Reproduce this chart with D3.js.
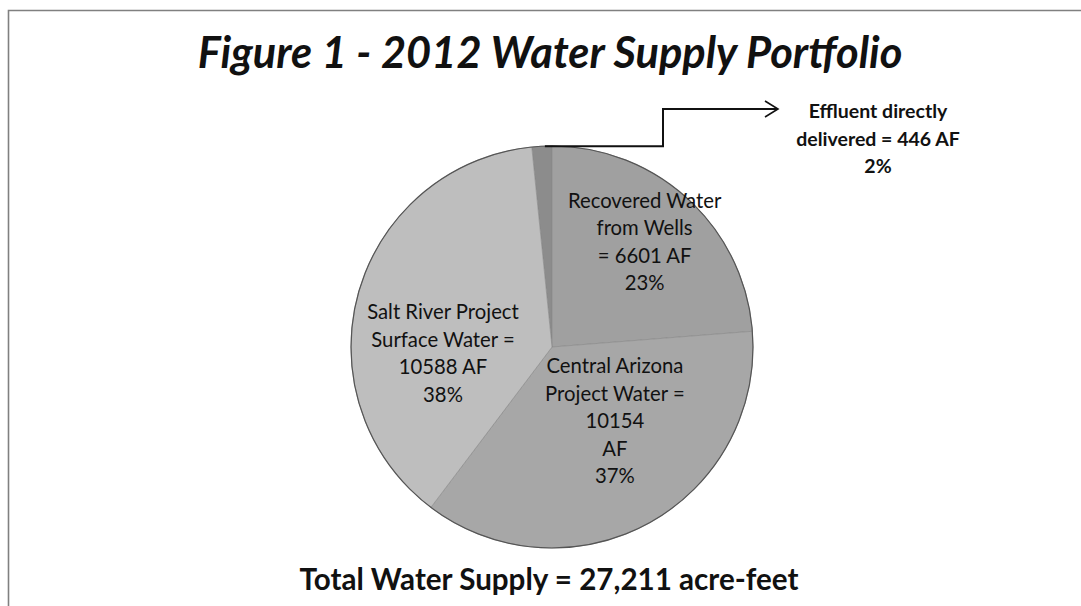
<!DOCTYPE html>
<html>
<head>
<meta charset="utf-8">
<script src="https://cdn.jsdelivr.net/npm/d3@7"></script>
<style>
  html, body { margin: 0; padding: 0; background: #fff; }
  svg { display: block; }
  text { font-family: Lato, "Open Sans", sans-serif; fill: #111; }
</style>
</head>
<body>
<div id="chart"></div>
<script>
// Valori (acre-feet), ordine in senso orario
const categories = ["Effluent", "Recovered", "CAP", "SRP"];
const acreFeet = [446, 6601, 10154, 10588];
const percentLabels = ["2%", "23%", "37%", "38%"];
const labelLines = [
    ["Effluent directly", "delivered = 446 AF"],
    ["Recovered Water", "from Wells", "= 6601 AF"],
    ["Central Arizona", "Project Water =", "10154", "AF"],
    ["Salt River Project", "Surface Water =", "10588 AF"]
];
const sliceColors = ["#8c8c8c", "#a0a0a0", "#a7a7a7", "#bebebe"];
const titleText = "Figure 1 - 2012 Water Supply Portfolio";
const totalText = "Total Water Supply = 27,211 acre-feet";

const width = 1081, height = 606;
const cx = 552, cy = 347, radius = 201;

const svg = d3.select("#chart").append("svg")
    .attr("width", width)
    .attr("height", height);

// bordo della scansione (solo sopra e a sinistra)
svg.append("path")
    .attr("d", `M8.5,${height} V10.5 H${width}`)
    .attr("fill", "none")
    .attr("stroke", "#808080")
    .attr("stroke-width", 1.6);

// adatta la dimensione del font alla larghezza voluta
function fitText(sel, targetWidth, startSize) {
    sel.style("font-size", startSize + "px");
    const w = sel.node().getComputedTextLength();
    sel.style("font-size", (startSize * targetWidth / w).toFixed(2) + "px");
}

const title = svg.append("text")
    .attr("x", 550)
    .attr("y", 68)
    .attr("text-anchor", "middle")
    .style("font-weight", "bold")
    .style("font-style", "italic")
    .text(titleText);
fitText(title, 705, 34);

const total = svg.append("text")
    .attr("x", 549)
    .attr("y", 590)
    .attr("text-anchor", "middle")
    .style("font-weight", "bold")
    .text(totalText);
fitText(total, 499, 26);

// la fetta degli effluenti finisce a ore 12
const sum = d3.sum(acreFeet);
const startAngle = -2 * Math.PI * acreFeet[0] / sum;

const pie = d3.pie()
    .sort(null)
    .startAngle(startAngle)
    .endAngle(startAngle + 2 * Math.PI);

const arc = d3.arc().innerRadius(0).outerRadius(radius);
const arcs = pie(acreFeet);

const g = svg.append("g").attr("transform", `translate(${cx},${cy})`);

g.selectAll(".slice")
    .data(arcs)
    .enter().append("path")
    .attr("class", "slice")
    .attr("d", arc)
    .attr("fill", (d, i) => sliceColors[i])
    .attr("stroke", "#888")
    .attr("stroke-width", 0.6);

// contorno scuro del cerchio
g.append("circle")
    .attr("r", radius)
    .attr("fill", "none")
    .attr("stroke", "#555")
    .attr("stroke-width", 1.2);

// posizione delle etichette: centroide + spostamento (come Excel "best fit")
const labelArc = d3.arc().innerRadius(radius * 0.62).outerRadius(radius * 0.62);
const labelNudge = [[0, 0], [8, -48], [3, -83], [11, 6]];
const lineHeight = 27.5;

arcs.forEach((d, i) => {
    if (i === 0) return; // etichetta esterna, disegnata sotto
    const c = labelArc.centroid(d);
    const lines = labelLines[i].concat([percentLabels[i]]);
    const t = g.append("text")
        .attr("text-anchor", "middle")
        .style("font-size", "20.3px");
    lines.forEach((line, k) => {
        t.append("tspan")
            .attr("x", c[0] + labelNudge[i][0])
            .attr("y", c[1] + labelNudge[i][1] + k * lineHeight)
            .text(line);
    });
});

// etichetta esterna degli effluenti con freccia
const eff = arcs[0];
const midA = (eff.startAngle + eff.endAngle) / 2;
const p0 = [cx + radius * Math.sin(midA) + 3, cy - radius * Math.cos(midA)];
const stepX = 663, upY = 109, tipX = 778;

svg.append("path")
    .attr("d", `M${p0[0]},${p0[1]} H${stepX} V${upY} H${tipX}`)
    .attr("fill", "none")
    .attr("stroke", "#111")
    .attr("stroke-width", 2);

svg.append("path")
    .attr("d", `M${tipX - 13},${upY - 8} L${tipX},${upY} L${tipX - 13},${upY + 8}`)
    .attr("fill", "none")
    .attr("stroke", "#111")
    .attr("stroke-width", 1.6);

const effText = svg.append("text")
    .attr("text-anchor", "middle")
    .style("font-weight", "bold")
    .style("font-size", "19.5px");
labelLines[0].concat([percentLabels[0]]).forEach((line, k) => {
    effText.append("tspan")
        .attr("x", 878)
        .attr("y", 118 + k * 27.5)
        .text(line);
});
</script>
</body>
</html>
